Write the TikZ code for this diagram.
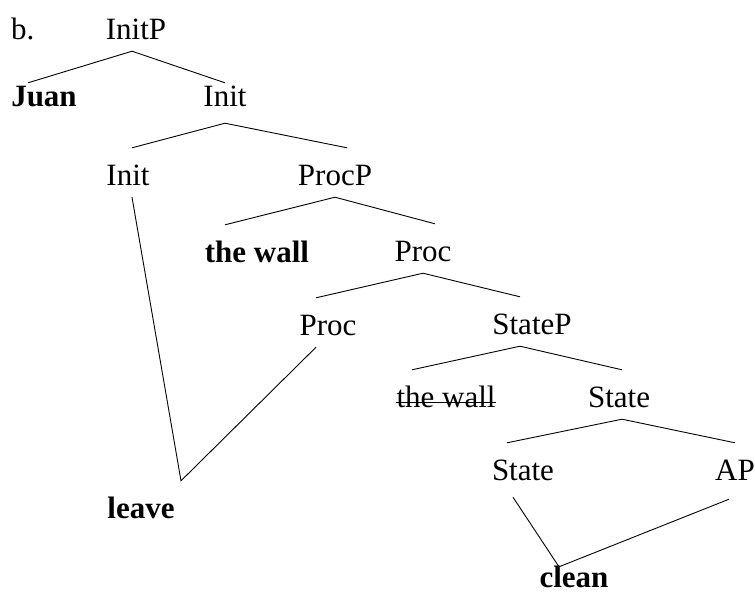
\documentclass[tikz,border=0pt]{standalone}
\usepackage{fontspec}
\setmainfont{Liberation Serif}
\tikzset{
  lbl/.style = {anchor=base, inner sep=0pt, text height=37pt, text depth=12pt,
                font=\fontsize{31}{37}\selectfont},
  word/.style = {lbl, font=\fontsize{31}{37}\selectfont\bfseries},
  branch/.style = {line width=0.9pt}
}
\begin{document}
\begin{tikzpicture}[x=1pt, y=-1pt]
    \useasboundingbox (0,0) rectangle (755,592);
    % labels of the tree
    \node[lbl, anchor=base west] (ex) at (11,39) {b.};
    \node[lbl] (initp) at (136,39) {InitP};
    \node[word] (juan) at (44,106) {Juan};
    \node[lbl] (initbar) at (225,106) {Init};
    \node[lbl] (init) at (128,185) {Init};
    \node[lbl] (procp) at (335,185) {ProcP};
    \node[word] (wallA) at (257,262) {the wall};
    \node[lbl] (procbar) at (423,261) {Proc};
    \node[lbl] (proc) at (328,335) {Proc};
    \node[lbl] (statep) at (532,334) {StateP};
    \node[lbl] (wallB) at (446,407) {the wall};
    \node[lbl] (statebar) at (619,407) {State};
    \node[lbl] (state) at (523,480) {State};
    \node[lbl] (ap) at (735,480) {AP};
    \node[word] (leave) at (141,518) {leave};
    \node[word, text depth=1pt] (clean) at (574,587) {clean};
    % struck-out copy
    \draw[branch] ([yshift=5pt]wallB.base west) -- ([yshift=5pt]wallB.base east);
    % branches
    \draw[branch] ([xshift=-4pt]initp.south) -- ([xshift=-16pt,yshift=-14pt]juan.north);
    \draw[branch] ([xshift=-4pt]initp.south) -- ([yshift=-14pt]initbar.north);
    \draw[branch] ([yshift=-5pt]initbar.south) -- ([xshift=4pt]init.north);
    \draw[branch] ([yshift=-5pt]initbar.south) -- ([xshift=12pt]procp.north);
    \draw[branch] (procp.south) -- ([xshift=-32pt]wallA.north);
    \draw[branch] (procp.south) -- ([xshift=12pt]procbar.north);
    \draw[branch] (procbar.south) -- ([xshift=-12pt]proc.north);
    \draw[branch] (procbar.south) -- ([xshift=-12pt]statep.north);
    \draw[branch] ([xshift=-12pt]statep.south) -- ([xshift=-34pt]wallB.north);
    \draw[branch] ([xshift=-12pt]statep.south) -- ([xshift=3pt]statebar.north);
    \draw[branch] ([xshift=3pt]statebar.south) -- ([xshift=-16pt]state.north);
    \draw[branch] ([xshift=3pt]statebar.south) -- (ap.north);
    % heads moving down to the roots
    \draw[branch] ([xshift=4pt]init.south) -- ([xshift=40pt]leave.north)
                  -- ([xshift=-12pt]proc.south);
    \draw[branch] ([xshift=-10pt,yshift=-5pt]state.south) -- ([xshift=-15pt,yshift=-17pt]clean.north)
                  -- ([xshift=-6pt,yshift=-7pt]ap.south);
\end{tikzpicture}
\end{document}
